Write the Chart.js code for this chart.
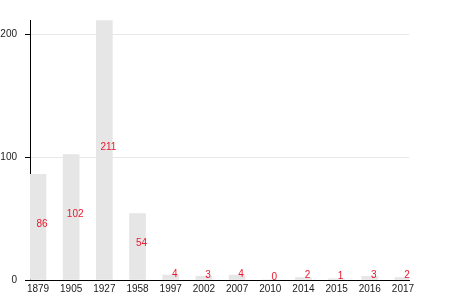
<!DOCTYPE html>
<html lang="en">
<head>
    <meta charset="UTF-8">
    <title>Counts by year</title>
    <script src="https://cdn.jsdelivr.net/npm/chart.js"></script>
    <style>
        body { margin: 0; background: #fff; }
    </style>
</head>
<body>
    <canvas id="barChart" width="450" height="300"></canvas>

    <script>
        const years = ['1879', '1905', '1927', '1958', '1997', '2002', '2007', '2010', '2014', '2015', '2016', '2017'];
        const counts = [86, 102, 211, 54, 4, 3, 4, 0, 2, 1, 3, 2];
        const yTicks = [0, 100, 200];

        // draws the red value labels next to each bar, plus the little stub of x axis left of the y axis
        const valueLabels = {
            id: 'valueLabels',
            afterDatasetsDraw(chart) {
                const ctx = chart.ctx;
                const meta = chart.getDatasetMeta(0);
                ctx.save();
                ctx.font = '10px "Liberation Sans", Arial, sans-serif';
                ctx.fillStyle = 'rgb(232, 24, 44)';
                ctx.textAlign = 'center';
                ctx.textBaseline = 'middle';
                meta.data.forEach((bar, i) => {
                    const mid = (bar.y + bar.base) / 2;
                    ctx.fillText(String(counts[i]), bar.x + 4, mid - 3);
                });
                const area = chart.chartArea;
                ctx.strokeStyle = '#000';
                ctx.lineWidth = 1;
                ctx.beginPath();
                ctx.moveTo(area.left - 5, area.bottom + 0.5);
                ctx.lineTo(area.left, area.bottom + 0.5);
                ctx.stroke();
                ctx.restore();
            }
        };

        const ctx = document.getElementById('barChart').getContext('2d');
        const barChart = new Chart(ctx, {
            type: 'bar',
            data: {
                datasets: [{
                    data: counts.map((c, i) => ({ x: i, y: c })),
                    backgroundColor: '#e6e6e6',
                    borderWidth: 0,
                    barThickness: 16
                }]
            },
            options: {
                responsive: false,
                animation: false,
                layout: { padding: { top: 20, right: 41, left: 0, bottom: 0 } },
                plugins: {
                    legend: { display: false },
                    tooltip: { enabled: false }
                },
                scales: {
                    x: {
                        type: 'linear',
                        offset: false,
                        min: -0.2411,
                        max: 11.181,
                        grid: { display: false, drawTicks: false },
                        border: { display: true, color: '#000', width: 1 },
                        ticks: {
                            stepSize: 1,
                            includeBounds: false,
                            autoSkip: false,
                            maxTicksLimit: 20,
                            maxRotation: 0,
                            padding: 3,
                            color: '#1a1a1a',
                            font: { family: '"Liberation Sans", Arial, sans-serif', size: 10 },
                            callback: (v) => years[v] !== undefined ? years[v] : ''
                        },
                        afterFit: (scale) => { scale.height = 20; }
                    },
                    y: {
                        min: 0,
                        max: 211.4,
                        grid: {
                            color: '#e8e8e8',
                            tickColor: '#000',
                            tickLength: 5
                        },
                        border: { display: true, color: '#000', width: 1 },
                        afterBuildTicks: (scale) => {
                            scale.ticks = yTicks.map(v => ({ value: v }));
                        },
                        ticks: {
                            padding: 8,
                            color: '#1a1a1a',
                            font: { family: '"Liberation Sans", Arial, sans-serif', size: 10 }
                        },
                        afterFit: (scale) => { scale.width = 30; }
                    }
                }
            },
            plugins: [valueLabels]
        });
    </script>
</body>
</html>
